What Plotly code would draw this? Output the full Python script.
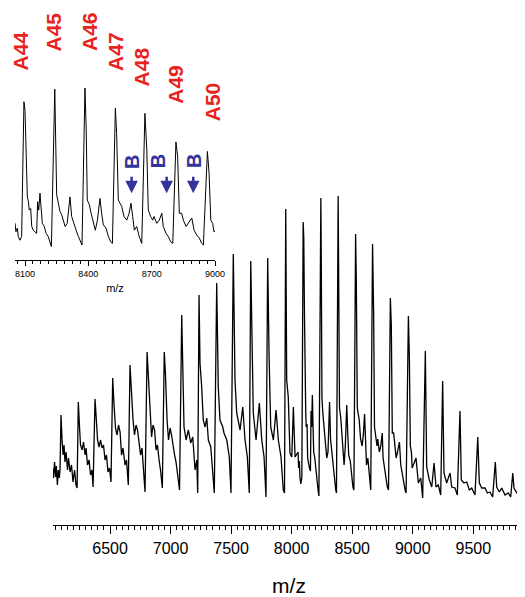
"""
MALDI-type mass spectrum with a zoomed inset (A44-A50 series, B satellite peaks)
"""

## modules
import plotly.graph_objects as go


# spectrum: m/z and intensity (a.u.)
# low mass part
mz_low = [6025, 6033, 6042, 6050, 6057, 6065, 6073, 6081, 6087,
          6095, 6104, 6112, 6120, 6128, 6137, 6149, 6157, 6170, 6182, 6194, 6207, 6219, 6228,
          6238, 6248, 6256, 6269, 6281, 6294, 6302, 6314, 6327, 6339, 6351, 6360,
          6376, 6387, 6397, 6409, 6422, 6434, 6446, 6459, 6471, 6483, 6496, 6508,
          6522, 6533, 6545, 6558, 6570, 6583, 6595, 6607, 6624, 6636, 6651,
          6665, 6678, 6690, 6702, 6715, 6727, 6740, 6752, 6764, 6777, 6789,
          6806, 6818, 6830, 6843, 6855, 6868, 6880, 6892, 6905, 6917, 6932,
          6948, 6958, 6971, 6983, 6996, 7008, 7020, 7033, 7045, 7057, 7074,
          7092, 7100, 7111, 7128, 7147, 7166, 7183, 7202, 7216, 7224,
          7235, 7243, 7257, 7270, 7285, 7299, 7312, 7332, 7348, 7361,
          7381, 7394, 7408, 7431, 7441, 7464, 7485, 7499,
          7518, 7532, 7546, 7574, 7596, 7615, 7634, 7650,
          7662, 7670, 7683, 7706, 7733, 7753, 7772, 7788,
          7802, 7813, 7827, 7849, 7871, 7890, 7912, 7931, 7941,
          7951, 7959, 7972, 7986, 8001, 8014, 8028, 8045]
int_low = [32, 22, 38, 23, 34, 15, 30, 22, 30,
           85, 60, 45, 55, 38, 48, 30, 42, 28, 35, 18, 30, 15, 12,
           98, 73, 55, 50, 58, 45, 52, 35, 40, 25, 30, 13,
           101, 80, 60, 53, 60, 52, 55, 40, 45, 28, 32, 18,
           122, 95, 72, 65, 75, 68, 45, 52, 35, 40, 15,
           135, 105, 80, 65, 75, 70, 55, 45, 52, 32, 8,
           148, 120, 80, 63, 75, 70, 50, 55, 40, 30, 12,
           148, 125, 80, 60, 72, 65, 53, 45, 38, 25, 10,
           185, 117, 73, 60, 70, 57, 63, 30, 40, 7,
           205, 137, 113, 80, 73, 82, 60, 53, 27, 7,
           217, 113, 80, 73, 67, 60, 43, 7,
           246, 120, 87, 70, 93, 60, 43, 7,
           239, 160, 87, 60, 97, 60, 43, 3,
           242, 147, 73, 60, 90, 60, 43, 10, 7,
           291, 120, 103, 47, 43, 93, 43, 47]

# zoomed window
mz_zoom = [8053, 8057, 8064, 8068, 8076, 8084, 8095, 8100, 8105, 8111, 8116, 8120, 8127, 8132,
           8139, 8147, 8155, 8160, 8165, 8171, 8176, 8182, 8191, 8200, 8210, 8218, 8225,
           8241, 8245, 8250, 8258, 8266, 8274, 8281, 8290, 8300, 8313, 8321, 8332, 8342, 8353, 8364, 8370,
           8384, 8390, 8395, 8405, 8413, 8421, 8427, 8433, 8443, 8455, 8463, 8471, 8484, 8495, 8506, 8514,
           8528, 8534, 8542, 8558, 8569, 8582, 8593, 8602, 8610, 8618, 8629, 8641, 8653,
           8668, 8677, 8684, 8695, 8705, 8711, 8724, 8736, 8748, 8755, 8768, 8779, 8790, 8800,
           8815, 8823, 8831, 8842, 8850, 8863, 8874, 8890, 8901, 8913, 8926, 8937, 8945,
           8964, 8972, 8980, 8989, 8995, 9005]
int_zoom = [48, 32, 39, 23, 16, 23, 278, 262, 193, 98, 89, 73, 76, 42,
            35, 32, 29, 89, 73, 105, 76, 48, 42, 29, 23, 10, 4,
            302, 231, 102, 86, 70, 64, 54, 42, 48, 98, 61, 45, 35, 23, 10, 7,
            304, 225, 92, 83, 67, 54, 42, 35, 54, 95, 67, 45, 39, 23, 13, 10,
            266, 218, 92, 80, 61, 54, 67, 86, 61, 35, 42, 23, 10,
            256, 187, 73, 61, 54, 61, 48, 54, 67, 42, 29, 23, 13, 10,
            202, 174, 67, 67, 54, 42, 48, 58, 35, 26, 20, 10, 7,
            184, 143, 54, 48, 32, 35]

# high mass part
mz_high = [9027, 9046, 9066, 9082, 9104, 9115, 9137, 9157, 9176, 9192, 9211, 9231,
           9247, 9258, 9280, 9308, 9322, 9349, 9368, 9390, 9401, 9423, 9446, 9467, 9487, 9514,
           9537, 9550, 9570, 9597, 9616, 9638, 9660, 9682, 9693, 9715, 9735, 9762, 9789, 9809,
           9826, 9836, 9859, 9886, 9908, 9927]
int_high = [42, 17, 22, 2, 149, 33, 20, 13, 37, 13, 15, 5,
            119, 27, 17, 27, 13, 12, 5, 89, 20, 17, 18, 10, 12, 5,
            63, 17, 12, 12, 7, 8, 3, 38, 13, 8, 12, 5, 7, 3,
            27, 12, 7, 8, 5, 7]

main_ticks = [6500, 7000, 7500, 8000, 8500, 9000, 9500]
inset_ticks = [8100, 8400, 8700, 9000]

series_names = ['A44', 'A45', 'A46', 'A47', 'A48', 'A49', 'A50']

mz = mz_low + mz_zoom + mz_high
intensity = int_low + int_zoom + int_high

RED = '#e8221c'
BLUE = '#33339c'
FONT = 'Liberation Sans, Arial, sans-serif'

# page has an 8px body margin, so the figure is 8px smaller than the window
W, H = 517, 589
PLOT_H = 517

fig = go.Figure()
fig.add_trace(go.Scatter(x=mz, y=intensity, mode='lines', xaxis='x', yaxis='y',
                         line=dict(color='black', width=1.3), hoverinfo='skip'))
fig.add_trace(go.Scatter(x=mz, y=intensity, mode='lines', xaxis='x2', yaxis='y2',
                         line=dict(color='black', width=1), hoverinfo='skip'))

# label anchors in inset coordinates (m/z, a.u.)
label_pos = [(8074, 374), (8235, 410), (8408, 410), (8526, 374), (8652, 344), (8815, 312), (8988, 278)]
annotations = []
for name, (lx, ly) in zip(series_names, label_pos):
    annotations.append(dict(x=lx, y=ly, xref='x2', yref='y2', text=name, showarrow=False,
                            textangle=-90, font=dict(family=FONT, size=21, color=RED, weight='bold')))

b_text_x = [8609, 8734, 8903]
b_arrow_x = [8605, 8771, 8897]
for tx, axx in zip(b_text_x, b_arrow_x):
    annotations.append(dict(x=tx, y=165, xref='x2', yref='y2', text='B', showarrow=False,
                            textangle=-90, font=dict(family=FONT, size=20, color=BLUE, weight='bold')))
    annotations.append(dict(x=axx, y=105, xref='x2', yref='y2', text='', showarrow=True,
                            ax=0, ay=-18, arrowhead=2, arrowsize=1, arrowwidth=2.5, arrowcolor=BLUE))

fig.update_layout(
    width=W, height=H,
    margin=dict(l=0, r=0, t=0, b=H - PLOT_H),
    paper_bgcolor='white', plot_bgcolor='rgba(0,0,0,0)',
    showlegend=False,
    annotations=annotations,
    xaxis=dict(domain=[45 / W, 1], range=[6029, 9927], showline=True, linecolor='black', linewidth=1.3,
               ticks='outside', ticklen=8, tickwidth=1, tickcolor='black', tickvals=main_ticks,
               ticklabelstandoff=1,
               minor=dict(tickmode='linear', tick0=6000, dtick=50, ticks='outside', ticklen=4,
                          tickwidth=1, tickcolor='black', showgrid=False),
               showgrid=False, zeroline=False, automargin=False,
               tickfont=dict(family=FONT, size=16, color='black'),
               title=dict(text='m/z', standoff=30, font=dict(family=FONT, size=21, color='black'))),
    yaxis=dict(domain=[0, 1], range=[-25, 492], visible=False),
    xaxis2=dict(domain=[7 / W, 207 / W], anchor='y2', range=[8052.6, 9000], showline=True,
                linecolor='black', linewidth=1, ticks='outside', ticklen=5, tickwidth=1, tickcolor='black',
                tickvals=inset_ticks,
                minor=dict(tickmode='linear', tick0=8100, dtick=37.5, ticks='outside', ticklen=3,
                           tickwidth=1, tickcolor='black', showgrid=False),
                showgrid=False, zeroline=False, automargin=False,
                tickfont=dict(family=FONT, size=9, color='black'),
                title=dict(text='m/z', standoff=6, font=dict(family=FONT, size=11, color='black'))),
    yaxis2=dict(domain=[265 / PLOT_H, 1], anchor='x2', range=[-21.4, 455.4], visible=False),
)

fig.write_html('out.html')
